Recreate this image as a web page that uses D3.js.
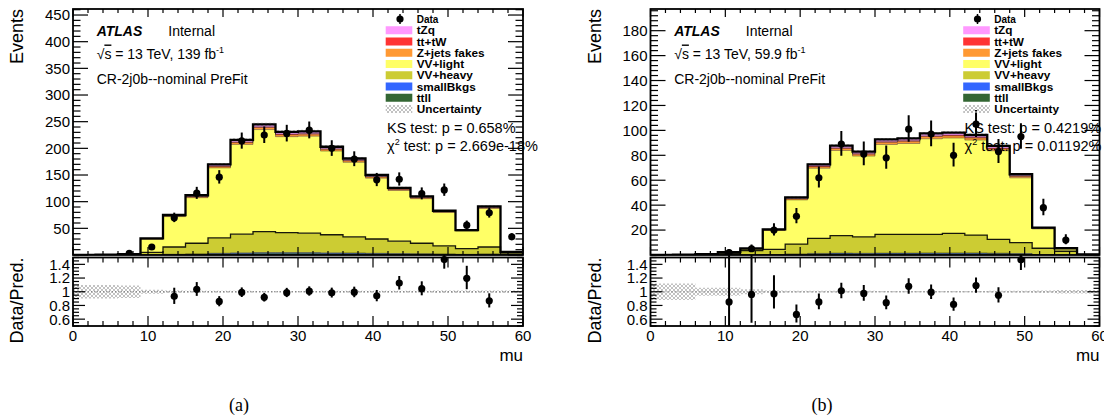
<!DOCTYPE html>
<html>
<head>
<meta charset="utf-8">
<script src="https://cdn.jsdelivr.net/npm/d3@7"></script>
<style>
  body { margin: 0; background: #fff; }
  svg { display: block; font-family: "Liberation Sans", Arial, Helvetica, sans-serif; }
</style>
</head>
<body>
<svg id="chart" width="1104" height="419"></svg>
<script>
// ---- binning (mu) ----
const binEdges = [0, 3, 6, 9, 12, 15, 18, 21, 24, 27, 30, 33, 36, 39, 42, 45, 48, 51, 54, 57, 60];
const xTicksMajor = [0, 10, 20, 30, 40, 50, 60];
const ratioTicks = [0.6, 0.8, 1, 1.2, 1.4];

// ---- panel (a): 139 fb-1 ----
const dataA   = [0, 0, 3, 15, 70, 116, 146, 214, 225, 228, 234, 200, 180, 141, 142, 115, 122, 56, 79, 34];
const ttllA   = [0, 0, 0.1, 0.5, 1, 1.5, 2.5, 3, 3.5, 3.5, 3.5, 3, 3, 2.5, 2, 2, 1.5, 1, 1.5, 0.2];
const smallA  = [0, 0, 0, 0.2, 0.4, 0.6, 0.8, 1, 1, 1, 1, 1, 0.8, 0.7, 0.6, 0.5, 0.4, 0.3, 0.4, 0.1];
const heavyA  = [0.1, 0.1, 0.3, 4.3, 13.6, 19.9, 28.7, 35, 39.5, 37.5, 36.5, 34, 30.2, 26.8, 23.4, 19.5, 15.1, 10.7, 13.1, 1.7];
const lightA  = [0.2, 0.4, 1.1, 24.7, 57, 85.5, 131.3, 168.4, 191.2, 179.9, 181.9, 156.9, 139.8, 114.1, 95, 83.6, 62.7, 32.9, 72.3, 3.8];
const zjetsA  = [0, 0, 0, 0.5, 1.2, 1.8, 2.7, 3.5, 4, 3.7, 3.7, 3.3, 2.9, 2.4, 2, 1.8, 1.3, 0.8, 1.5, 0.1];
const ttwA    = [0, 0, 0, 0.2, 0.5, 0.7, 1, 1.3, 1.5, 1.4, 1.4, 1.2, 1.1, 0.9, 0.8, 0.7, 0.5, 0.3, 0.6, 0];
const tzqA    = [0, 0, 0, 0.6, 1.3, 2, 3, 3.8, 4.3, 4, 4, 3.6, 3.2, 2.6, 2.2, 1.9, 1.5, 0.8, 1.6, 0.1];
const uncA    = [0.1, 0.1, 0.09, 0.03, 0.02, 0.016, 0.014, 0.013, 0.012, 0.012, 0.012, 0.013, 0.013, 0.014, 0.015, 0.016, 0.018, 0.02, 0.018, 0.02];
const yTicksA = [0, 50, 100, 150, 200, 250, 300, 350, 400, 450];

// ---- panel (b): 59.9 fb-1 ----
const dataB   = [0, 0, 0, 2, 5, 20, 31, 62, 89, 81, 78, 101, 97, 80, 105, 83, 95, 38, 12, 0];
const ttllB   = [0, 0, 0, 0.05, 0.1, 0.3, 0.6, 1, 1.2, 1.1, 1.2, 1.2, 1.3, 1.3, 1.3, 1.2, 0.9, 0.3, 0.1, 0];
const smallB  = [0, 0, 0, 0, 0.05, 0.1, 0.2, 0.3, 0.35, 0.3, 0.35, 0.35, 0.35, 0.35, 0.35, 0.3, 0.25, 0.1, 0.03, 0];
const heavyB  = [0, 0, 0.2, 0.95, 3.35, 4.1, 8, 12.1, 13.95, 13.1, 15.05, 15.05, 14.95, 15.75, 14.35, 11.1, 8.75, 5, 2.87, 0.3];
const lightB  = [0.1, 0.2, 0.4, 1.25, 1.45, 15.15, 35.4, 56.2, 68.4, 64.85, 72.1, 72.9, 76.65, 76.45, 76.2, 71.05, 52, 15.55, 2.17, 0.2];
const zjetsB  = [0, 0, 0, 0.05, 0.1, 0.4, 0.9, 1.3, 1.6, 1.5, 1.7, 1.7, 1.8, 1.8, 1.7, 1.6, 1.2, 0.4, 0.1, 0];
const ttwB    = [0, 0, 0, 0, 0.05, 0.15, 0.3, 0.5, 0.6, 0.55, 0.6, 0.6, 0.65, 0.65, 0.6, 0.55, 0.4, 0.15, 0.03, 0];
const tzqB    = [0, 0, 0, 0.05, 0.1, 0.4, 0.9, 1.4, 1.7, 1.6, 1.8, 1.8, 1.9, 1.9, 1.8, 1.7, 1.3, 0.4, 0.1, 0];
const uncB    = [0.12, 0.12, 0.06, 0.06, 0.035, 0.02, 0.016, 0.014, 0.013, 0.013, 0.012, 0.012, 0.012, 0.012, 0.012, 0.013, 0.015, 0.02, 0.025, 0.025];
const yTicksB = [0, 20, 40, 60, 80, 100, 120, 140, 160, 180];

// ---- processes, bottom of stack first ----
const layerKeys   = ["ttll", "smallBkgs", "VVheavy", "VVlight", "Zjets", "ttW", "tZq"];
const layerColors = ["#336633", "#3366ff", "#cccc33", "#ffff66", "#ff9933", "#ff3333", "#ff99ff"];
const legendNames = ["tZq", "tt+tW", "Z+jets fakes", "VV+light", "VV+heavy", "smallBkgs", "ttll"];
const legendColors = ["#ff99ff", "#ff3333", "#ff9933", "#ffff66", "#cccc33", "#3366ff", "#336633"];

// ---- page geometry ----
const MAIN_TOP = 9, MAIN_BOTTOM = 255;
const RATIO_TOP = 257.5, RATIO_BOTTOM = 326;

const svg = d3.select("#chart");
const defs = svg.append("defs");

// grey cross-hatch used for the systematic band
const hatch = defs.append("pattern")
  .attr("id", "hatch").attr("patternUnits", "userSpaceOnUse")
  .attr("width", 4).attr("height", 4);
hatch.append("path").attr("d", "M0,0L4,4M4,0L0,4M-1,3L1,5M3,-1L5,1")
  .attr("stroke", "#a8a8a8").attr("stroke-width", 0.7).attr("fill", "none");

// Poisson 68% interval (Gehrels approximation) for the data error bars
function poissonErr(n) {
  if (n <= 0) return [0, 1.84];
  const up = Math.sqrt(n + 0.75) + 1;
  const lo = n - n * Math.pow(1 - 1 / (9 * n) - 1 / (3 * Math.sqrt(n)), 3);
  return [lo, up];
}

function drawPanel(p) {
  const g = svg.append("g");
  const x = d3.scaleLinear().domain([0, 60]).range([p.x0, p.x1]);
  const y = d3.scaleLinear().domain([0, p.yMax]).range([MAIN_BOTTOM, MAIN_TOP]);
  const r = d3.scaleLinear().domain([0.5, 1.5]).range([RATIO_BOTTOM, RATIO_TOP]);

  const rows = binEdges.slice(0, -1).map((lo, i) => {
    const row = { lo: lo, hi: binEdges[i + 1] };
    layerKeys.forEach((k, j) => { row[k] = p.layers[j][i]; });
    return row;
  });
  const totals = rows.map(row => d3.sum(layerKeys, k => row[k]));

  const mainClip = "clip-main-" + p.id;
  defs.append("clipPath").attr("id", mainClip).append("rect")
    .attr("x", p.x0).attr("y", MAIN_TOP).attr("width", p.x1 - p.x0).attr("height", MAIN_BOTTOM - MAIN_TOP);
  const ratioClip = "clip-ratio-" + p.id;
  defs.append("clipPath").attr("id", ratioClip).append("rect")
    .attr("x", p.x0).attr("y", MAIN_BOTTOM).attr("width", p.x1 - p.x0).attr("height", RATIO_BOTTOM - MAIN_BOTTOM);

  const stepPts = (vals0, vals1) => {
    const pts = rows.map((row, i) => ({ x: row.lo, y0: vals0[i], y1: vals1[i] }));
    pts.push({ x: binEdges[binEdges.length - 1], y0: vals0[vals0.length - 1], y1: vals1[vals1.length - 1] });
    return pts;
  };
  const area = d3.area().curve(d3.curveStepAfter)
    .x(d => x(d.x)).y0(d => y(d.y0)).y1(d => y(d.y1));
  const topLine = d3.line().curve(d3.curveStepAfter).x(d => x(d.x)).y(d => y(d.y1));

  const main = g.append("g").attr("clip-path", `url(#${mainClip})`);

  // stacked backgrounds
  const stacked = d3.stack().keys(layerKeys)(rows);
  stacked.forEach((s, j) => {
    const pts = stepPts(s.map(d => d[0]), s.map(d => d[1]));
    main.append("path").attr("d", area(pts)).attr("fill", layerColors[j]);
  });
  stacked.forEach((s, j) => {
    const pts = stepPts(s.map(d => d[0]), s.map(d => d[1]));
    main.append("path").attr("d", topLine(pts)).attr("fill", "none")
      .attr("stroke", "#000").attr("stroke-opacity", j === 2 ? 0.9 : 0.45)
      .attr("stroke-width", j === 2 ? 1.3 : 0.8);
  });

  // uncertainty band on the total prediction
  main.append("path")
    .attr("d", area(stepPts(totals.map((t, i) => t * (1 - p.unc[i])), totals.map((t, i) => t * (1 + p.unc[i])))))
    .attr("fill", "url(#hatch)");

  // total outline
  const outline = [{ x: 0, y1: 0 }].concat(stepPts(totals, totals)).concat([{ x: 60, y1: 0 }]);
  main.append("path")
    .attr("d", d3.line().curve(d3.curveStepAfter).x(d => x(d.x)).y(d => y(d.y1))(outline))
    .attr("fill", "none").attr("stroke", "#000").attr("stroke-width", 2.3);

  // data
  rows.forEach((row, i) => {
    const n = p.data[i];
    if (n <= 0) return;
    const cx = x((row.lo + row.hi) / 2);
    const [lo, up] = poissonErr(n);
    main.append("line").attr("x1", cx).attr("x2", cx)
      .attr("y1", y(n - lo)).attr("y2", y(n + up))
      .attr("stroke", "#000").attr("stroke-width", 2);
    main.append("circle").attr("cx", cx).attr("cy", y(n)).attr("r", 3.6).attr("fill", "#000");
  });

  // ---- ratio panel ----
  const ratio = g.append("g").attr("clip-path", `url(#${ratioClip})`);
  const rArea = d3.area().curve(d3.curveStepAfter)
    .x(d => x(d.x)).y0(d => r(d.y0)).y1(d => r(d.y1));
  ratio.append("path")
    .attr("d", rArea(stepPts(p.unc.map(u => 1 - u), p.unc.map(u => 1 + u))))
    .attr("fill", "url(#hatch)");
  ratio.append("line").attr("x1", p.x0).attr("x2", p.x1).attr("y1", r(1)).attr("y2", r(1))
    .attr("stroke", "#777").attr("stroke-width", 1).attr("stroke-dasharray", "1,2");
  rows.forEach((row, i) => {
    const n = p.data[i], t = totals[i];
    if (n <= 0 || t <= 0) return;
    const v = n / t;
    if (v < 0.5 || v > 1.5) return;
    const cx = x((row.lo + row.hi) / 2);
    const [lo, up] = poissonErr(n);
    ratio.append("line").attr("x1", cx).attr("x2", cx)
      .attr("y1", r(v - lo / t)).attr("y2", r(v + up / t))
      .attr("stroke", "#000").attr("stroke-width", 2);
    ratio.append("circle").attr("cx", cx).attr("cy", r(v)).attr("r", 3.6).attr("fill", "#000");
  });

  // ---- frames and ticks ----
  const ax = g.append("g").attr("stroke", "#000").attr("fill", "none");
  const tick = (x1, y1, x2, y2, w) => ax.append("line")
    .attr("x1", x1).attr("y1", y1).attr("x2", x2).attr("y2", y2).attr("stroke-width", w || 1.2);

  // main y axis
  const yMinorStep = p.yTicks[1] / 5;
  d3.range(0, p.yMax + 1e-6, yMinorStep).forEach(v => {
    const isMajor = p.yTicks.some(t => Math.abs(t - v) < 1e-6);
    const len = isMajor ? 15 : 7.5;
    tick(p.x0, y(v), p.x0 + len, y(v));
    tick(p.x1, y(v), p.x1 - len, y(v));
  });
  // x ticks on both panels
  d3.range(0, 60.001, 2).forEach(v => {
    const isMajor = v % 10 === 0;
    const lm = isMajor ? 8 : 4;
    tick(x(v), MAIN_BOTTOM, x(v), MAIN_BOTTOM - lm);
    tick(x(v), MAIN_TOP, x(v), MAIN_TOP + lm);
    const lr = isMajor ? 10 : 5;
    tick(x(v), RATIO_BOTTOM, x(v), RATIO_BOTTOM - lr);
    tick(x(v), RATIO_TOP, x(v), RATIO_TOP + lr);
  });
  // ratio y ticks
  d3.range(0.5, 1.5001, 0.05).forEach(v => {
    const isMajor = ratioTicks.some(t => Math.abs(t - v) < 1e-6);
    const len = isMajor ? 12 : 6;
    tick(p.x0, r(v), p.x0 + len, r(v));
    tick(p.x1, r(v), p.x1 - len, r(v));
  });

  ax.append("rect").attr("x", p.x0).attr("y", MAIN_TOP).attr("width", p.x1 - p.x0)
    .attr("height", MAIN_BOTTOM - MAIN_TOP).attr("stroke-width", 1.8);
  ax.append("rect").attr("x", p.x0).attr("y", RATIO_TOP).attr("width", p.x1 - p.x0)
    .attr("height", RATIO_BOTTOM - RATIO_TOP).attr("stroke-width", 1.8);

  // tick labels
  const lab = g.append("g").attr("fill", "#000").attr("font-size", 15);
  p.yTicks.filter(v => v > 0).forEach(v => {
    lab.append("text").attr("x", p.x0 - 3).attr("y", y(v) + 5.4)
      .attr("text-anchor", "end").text(v);
  });
  ratioTicks.forEach(v => {
    lab.append("text").attr("x", p.x0 - 3).attr("y", r(v) + 5.4)
      .attr("text-anchor", "end").text(v === 1 ? "1" : d3.format(".1f")(v));
  });
  xTicksMajor.forEach(v => {
    lab.append("text").attr("x", x(v)).attr("y", 340.5)
      .attr("text-anchor", "middle").text(v);
  });

  // axis titles
  g.append("text").attr("transform", `translate(${p.x0 - 50},${MAIN_TOP}) rotate(-90)`)
    .attr("text-anchor", "end").attr("font-size", 18).text("Events");
  g.append("text").attr("transform", `translate(${p.x0 - 50},${RATIO_TOP}) rotate(-90)`)
    .attr("text-anchor", "end").attr("font-size", 18).text("Data/Pred.");
  g.append("text").attr("x", p.x1).attr("y", 361).attr("text-anchor", "end")
    .attr("font-size", 17).text("mu");

  // labels inside the frame
  const tx = p.x0 + 23.7;
  g.append("text").attr("x", tx).attr("y", 35.7).attr("font-size", 14)
    .attr("font-weight", "bold").attr("font-style", "italic").text("ATLAS");
  g.append("text").attr("x", p.x0 + 95.3).attr("y", 35.7).attr("font-size", 14).text("Internal");
  const lumi = g.append("text").attr("x", tx).attr("y", 58.5).attr("font-size", 14);
  lumi.append("tspan").text("\u221A");
  lumi.append("tspan").attr("text-decoration", "overline").style("text-decoration", "overline").text("s");
  lumi.append("tspan").text(" = 13 TeV, " + p.lumi + " fb");
  lumi.append("tspan").attr("font-size", 9).attr("dy", -6).text("-1");
  g.append("text").attr("x", tx).attr("y", 84.3).attr("font-size", 14).text("CR-2j0b--nominal PreFit");

  // legend
  const lx = p.x0 + 312.7, ly0 = 19, dy = 11.25;
  const leg = g.append("g");
  leg.append("circle").attr("cx", p.x0 + 327).attr("cy", ly0).attr("r", 3.6).attr("fill", "#000");
  leg.append("line").attr("x1", p.x0 + 327).attr("x2", p.x0 + 327).attr("y1", ly0 - 5).attr("y2", ly0 + 5)
    .attr("stroke", "#000").attr("stroke-width", 1.5);
  leg.append("text").attr("x", lx + 31).attr("y", ly0 + 3.5).attr("font-size", 10)
    .attr("font-weight", "bold").text("Data");
  legendNames.forEach((name, i) => {
    const cy = ly0 + (i + 1) * dy;
    leg.append("rect").attr("x", lx).attr("y", cy - 4).attr("width", 26.6).attr("height", 8)
      .attr("fill", legendColors[i]);
    leg.append("text").attr("x", lx + 31).attr("y", cy + 4.2).attr("font-size", 11.8)
      .attr("font-weight", "bold").text(name);
  });
  const cyU = ly0 + 8 * dy;
  leg.append("rect").attr("x", lx).attr("y", cyU - 4).attr("width", 26.6).attr("height", 8)
    .attr("fill", "url(#hatch)");
  leg.append("text").attr("x", lx + 31).attr("y", cyU + 4.2).attr("font-size", 11.8)
    .attr("font-weight", "bold").text("Uncertainty");

  // goodness-of-fit
  g.append("text").attr("x", p.x0 + 314).attr("y", 132.7).attr("font-size", 14.5)
    .text("KS test: p = " + p.ks);
  const chi = g.append("text").attr("x", p.x0 + 314).attr("y", 151).attr("font-size", 14.5);
  chi.append("tspan").text("\u03C7");
  chi.append("tspan").attr("font-size", 9).attr("dy", -6).text("2");
  chi.append("tspan").attr("dy", 6).text(" test: p = " + p.chi2);

  // caption
  svg.append("text").attr("x", p.caption[1]).attr("y", 411).attr("text-anchor", "middle")
    .attr("font-family", "'Liberation Serif', 'Times New Roman', serif").attr("font-size", 18)
    .text(p.caption[0]);
}

drawPanel({
  id: "a", x0: 73, x1: 523, yMax: 461.3, yTicks: yTicksA,
  data: dataA, layers: [ttllA, smallA, heavyA, lightA, zjetsA, ttwA, tzqA], unc: uncA,
  lumi: "139", ks: "0.658%", chi2: "2.669e-18%", caption: ["(a)", 239]
});
drawPanel({
  id: "b", x0: 650.5, x1: 1099.5, yMax: 197.4, yTicks: yTicksB,
  data: dataB, layers: [ttllB, smallB, heavyB, lightB, zjetsB, ttwB, tzqB], unc: uncB,
  lumi: "59.9", ks: "0.4219%", chi2: "0.01192%", caption: ["(b)", 822]
});
</script>
</body>
</html>
